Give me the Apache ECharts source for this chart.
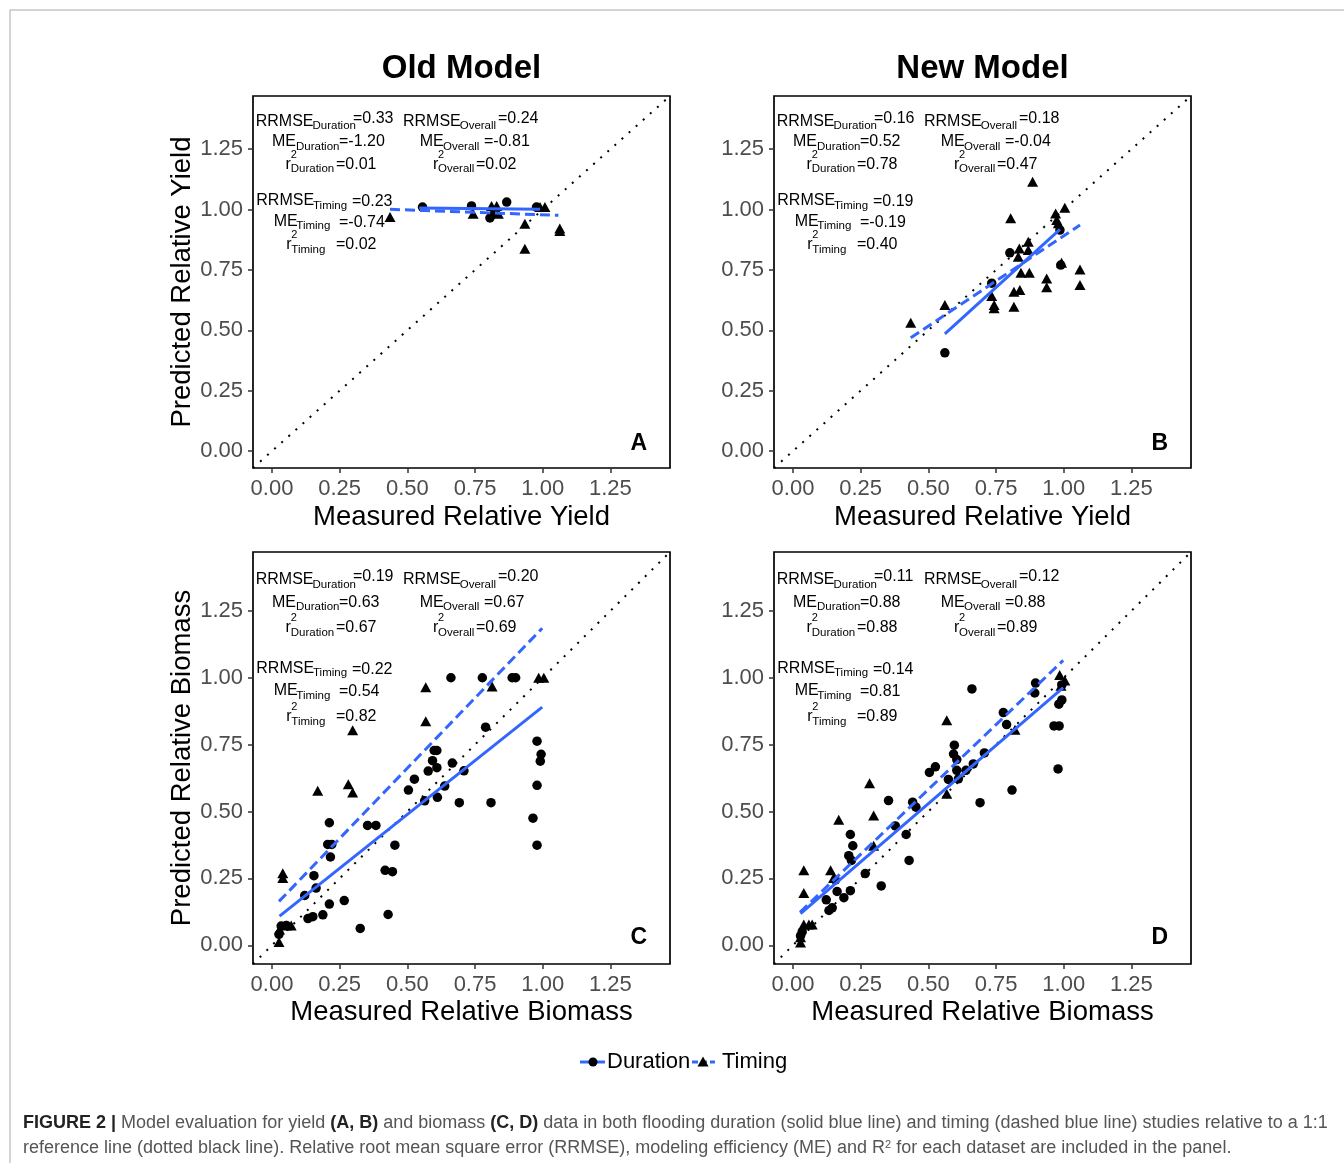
<!DOCTYPE html>
<html>
<head>
<meta charset="utf-8">
<title>Figure 2 - model evaluation</title>
<script src="https://cdn.jsdelivr.net/npm/echarts@6.0.0/dist/echarts.min.js"></script>
<style>
  html, body { margin: 0; padding: 0; background: #fff; }
  #main { width: 1344px; height: 1163px; }
</style>
</head>
<body>
<div id="main"></div>
<script>
// ---- labels ----
const panelLetters = ["A", "B", "C", "D"];
const colTitles = ["Old Model", "New Model"];
const yTitles = ["Predicted Relative Yield", "Predicted Relative Biomass"];
const xTitles = ["Measured Relative Yield", "Measured Relative Biomass"];
const tickValues = [0, 0.25, 0.5, 0.75, 1, 1.25];
const axisMin = -0.07;
const axisMax = 1.47;
const oneToOne = [[-0.07, -0.07], [1.47, 1.47]];

// ---- A: old model, yield ----
const durationA = [[0.556, 1.010], [0.737, 1.015], [0.805, 0.965], [0.823, 0.990], [0.867, 1.031], [0.977, 1.010]];
const timingA = [[0.436, 0.969], [0.743, 0.983], [0.811, 1.015], [0.830, 1.015], [0.836, 0.983], [0.934, 0.941],
  [0.934, 0.838], [0.990, 1.010], [1.008, 1.010], [1.063, 0.921], [1.063, 0.911]];
const durationFitA = [[0.544, 1.006], [0.990, 1.001]];
const timingFitA = [[0.436, 1.001], [1.058, 0.976]];

// ---- B: new model, yield ----
const durationB = [[0.561, 0.407], [0.734, 0.695], [0.801, 0.821], [0.986, 0.915], [0.989, 0.770]];
const timingB = [[0.435, 0.531], [0.561, 0.605], [0.885, 1.115], [0.804, 0.964], [0.836, 0.839], [0.832, 0.805],
  [0.869, 0.867], [0.869, 0.832], [0.734, 0.642], [0.743, 0.605], [0.743, 0.591], [0.816, 0.598],
  [0.816, 0.660], [0.838, 0.667], [0.842, 0.738], [0.873, 0.738], [0.937, 0.715], [0.937, 0.678],
  [0.992, 0.780], [1.060, 0.752], [1.060, 0.688], [0.970, 0.984], [1.004, 1.007], [0.974, 0.957], [0.980, 0.943]];
const durationFitB = [[0.561, 0.485], [0.986, 0.918]];
const timingFitB = [[0.435, 0.469], [1.060, 0.936]];

// ---- C: old model, biomass ----
const durationC = [[0.661, 1.00], [0.777, 1.00], [0.887, 1.00], [0.900, 1.00], [0.789, 0.815], [0.979, 0.763],
  [0.994, 0.714], [0.991, 0.688], [0.979, 0.598], [0.964, 0.475], [0.979, 0.374], [0.599, 0.728],
  [0.609, 0.728], [0.593, 0.690], [0.577, 0.651], [0.609, 0.664], [0.666, 0.681], [0.709, 0.652],
  [0.526, 0.621], [0.504, 0.580], [0.564, 0.540], [0.611, 0.553], [0.638, 0.595], [0.692, 0.533],
  [0.809, 0.533], [0.212, 0.458], [0.353, 0.448], [0.384, 0.448], [0.454, 0.374], [0.206, 0.377],
  [0.221, 0.377], [0.216, 0.330], [0.418, 0.280], [0.445, 0.275], [0.155, 0.260], [0.163, 0.214],
  [0.121, 0.186], [0.212, 0.154], [0.267, 0.167], [0.133, 0.100], [0.151, 0.107], [0.188, 0.114],
  [0.429, 0.115], [0.326, 0.063], [0.026, 0.041], [0.034, 0.072], [0.053, 0.074]];
const timingC = [[0.985, 1.00], [1.004, 1.00], [0.813, 0.967], [0.568, 0.964], [0.568, 0.837], [0.298, 0.804],
  [0.169, 0.578], [0.282, 0.602], [0.298, 0.571], [0.040, 0.269], [0.040, 0.251], [0.053, 0.074],
  [0.071, 0.074], [0.028, 0.059], [0.026, 0.012]];
const durationFitC = [[0.028, 0.109], [0.998, 0.890]];
const timingFitC = [[0.026, 0.164], [0.998, 1.185]];

// ---- D: new model, biomass ----
const durationD = [[0.661, 0.958], [0.896, 0.980], [0.893, 0.943], [0.777, 0.870], [0.789, 0.825], [0.993, 0.973],
  [0.993, 0.917], [0.982, 0.901], [0.964, 0.820], [0.983, 0.820], [0.979, 0.659], [0.596, 0.748],
  [0.593, 0.715], [0.605, 0.694], [0.666, 0.678], [0.707, 0.719], [0.605, 0.654], [0.574, 0.620],
  [0.611, 0.622], [0.639, 0.654], [0.504, 0.646], [0.526, 0.667], [0.691, 0.533], [0.809, 0.580],
  [0.353, 0.541], [0.442, 0.535], [0.454, 0.516], [0.378, 0.446], [0.418, 0.414], [0.429, 0.317],
  [0.212, 0.414], [0.221, 0.372], [0.206, 0.335], [0.216, 0.317], [0.267, 0.268], [0.326, 0.222],
  [0.157, 0.244], [0.163, 0.201], [0.212, 0.204], [0.188, 0.178], [0.123, 0.170], [0.133, 0.130],
  [0.145, 0.140], [0.028, 0.035], [0.034, 0.050]];
const timingD = [[0.985, 1.010], [1.004, 0.990], [0.990, 0.970], [0.820, 0.806], [0.568, 0.841], [0.568, 0.566],
  [0.283, 0.606], [0.298, 0.485], [0.169, 0.469], [0.298, 0.372], [0.139, 0.280], [0.150, 0.251],
  [0.040, 0.280], [0.040, 0.195], [0.040, 0.078], [0.059, 0.078], [0.071, 0.078], [0.028, 0.010], [0.028, 0.030]];
const durationFitD = [[0.028, 0.118], [0.998, 0.963]];
const timingFitD = [[0.026, 0.123], [0.998, 1.065]];

// ---- statistics printed in each panel (A, B, C, D) ----
const rrmseDuration = [0.33, 0.16, 0.19, 0.11];
const meDuration = [-1.20, 0.52, 0.63, 0.88];
const r2Duration = [0.01, 0.78, 0.67, 0.88];
const rrmseTiming = [0.23, 0.19, 0.22, 0.14];
const meTiming = [-0.74, -0.19, 0.54, 0.81];
const r2Timing = [0.02, 0.40, 0.82, 0.89];
const rrmseOverall = [0.24, 0.18, 0.20, 0.12];
const meOverall = [-0.81, -0.04, 0.67, 0.88];
const r2Overall = [0.02, 0.47, 0.69, 0.89];

const durationPts = [durationA, durationB, durationC, durationD];
const timingPts = [timingA, timingB, timingC, timingD];
const durationFits = [durationFitA, durationFitB, durationFitC, durationFitD];
const timingFits = [timingFitA, timingFitB, timingFitC, timingFitD];

const FONT = '"Liberation Sans", Arial, Helvetica, sans-serif';
const BLUE = "#3366FF";

const grids = [
  { left: 253, top: 96, width: 417, height: 372 },
  { left: 774, top: 96, width: 417, height: 372 },
  { left: 253, top: 552, width: 417, height: 412 },
  { left: 774, top: 552, width: 417, height: 412 }
];

const axisCommon = (i, margin) => ({
  gridIndex: i,
  type: "value",
  min: axisMin,
  max: axisMax,
  axisLine: { show: false, onZero: false },
  splitLine: { show: false },
  axisTick: { show: true, length: 5, customValues: tickValues, lineStyle: { color: "#333", width: 1.5 } },
  axisLabel: {
    customValues: tickValues,
    formatter: (v) => v.toFixed(2),
    color: "#4d4d4d",
    fontSize: 22,
    fontFamily: FONT,
    margin: margin
  }
});

const series = [];
grids.forEach((g, i) => {
  series.push({
    type: "line", xAxisIndex: i, yAxisIndex: i, data: oneToOne, symbol: "none", silent: true, z: 1,
    lineStyle: { color: "#000", width: 2, type: [2, 7.5] }
  });
  series.push({
    name: "Duration", type: "scatter", xAxisIndex: i, yAxisIndex: i, data: durationPts[i],
    symbol: "circle", symbolSize: 9.5, itemStyle: { color: "#000", opacity: 1 }, z: 2
  });
  series.push({
    name: "Timing", type: "scatter", xAxisIndex: i, yAxisIndex: i, data: timingPts[i],
    symbol: "triangle", symbolSize: [11, 10], itemStyle: { color: "#000", opacity: 1 }, z: 2
  });
  series.push({
    type: "line", xAxisIndex: i, yAxisIndex: i, data: durationFits[i], symbol: "none", silent: true, z: 3,
    lineStyle: { color: BLUE, width: 3 }
  });
  series.push({
    type: "line", xAxisIndex: i, yAxisIndex: i, data: timingFits[i], symbol: "none", silent: true, z: 3,
    lineStyle: { color: BLUE, width: 3, type: [10, 5] }
  });
});

const option = {
  animation: false,
  backgroundColor: "#fff",
  grid: grids.map((g) => Object.assign({ show: true, borderColor: "#000", borderWidth: 1.7, backgroundColor: "transparent" }, g)),
  xAxis: grids.map((g, i) => axisCommon(i, 10)),
  yAxis: grids.map((g, i) => axisCommon(i, 10)),
  series: series
};

const chart = echarts.init(document.getElementById("main"), null, { renderer: "canvas" });
chart.setOption(option);

// ---- text layer ----
function txt(x, y, text, size, o) {
  o = o || {};
  return {
    type: "text", x: x, y: y, rotation: o.rot || 0, silent: true, z: 10,
    style: {
      text: text, fontSize: size, fontFamily: FONT, fontWeight: o.bold ? "bold" : "normal",
      fill: o.color || "#000", textAlign: o.align || "left", textVerticalAlign: o.valign || "middle",
      rich: o.rich
    }
  };
}

const fmt = (v) => "=" + v.toFixed(2);
// rows of the statistics block: x offsets from panel left, y in data units
const statRows = [
  { main: "RRMSE", sub: "Duration", vals: rrmseDuration, mx: 2.7, sx: 59.5, vx: 100, yv: 1.366, vdy: -3 },
  { main: "ME", sub: "Duration", vals: meDuration, mx: 19, sx: 43, vx: 86, yv: 1.282, vdy: 0 },
  { main: "r", sup: "2", sub: "Duration", vals: r2Duration, mx: 32.5, sx: 37.7, vx: 83, yv: 1.188, vdy: 0 },
  { main: "RRMSE", sub: "Timing", vals: rrmseTiming, mx: 3.3, sx: 60, vx: 99, yv: 1.036, vdy: 1 },
  { main: "ME", sub: "Timing", vals: meTiming, mx: 20.7, sx: 43.3, vx: 86, yv: 0.952, vdy: 1 },
  { main: "r", sup: "2", sub: "Timing", vals: r2Timing, mx: 33.3, sx: 38.3, vx: 83, yv: 0.855, vdy: 0 },
  { main: "RRMSE", sub: "Overall", vals: rrmseOverall, mx: 150, sx: 206.7, vx: 245, yv: 1.366, vdy: -3 },
  { main: "ME", sub: "Overall", vals: meOverall, mx: 166.7, sx: 190, vx: 231, yv: 1.282, vdy: 0 },
  { main: "r", sup: "2", sub: "Overall", vals: r2Overall, mx: 180, sx: 185, vx: 223, yv: 1.188, vdy: 0 }
];

const g = [];
grids.forEach((gr, i) => {
  statRows.forEach((r) => {
    const y = chart.convertToPixel({ gridIndex: i }, [0, r.yv])[1];
    const x0 = gr.left;
    g.push(txt(x0 + r.mx, y, r.main, 16));
    if (r.sup) g.push(txt(x0 + r.sx, y - 9.5, r.sup, 11));
    g.push(txt(x0 + r.sx, y + 5, r.sub, 11.5));
    g.push(txt(x0 + r.vx, y + r.vdy, fmt(r.vals[i]), 16));
  });
  const lp = chart.convertToPixel({ gridIndex: i }, [1.355, 0.03]);
  g.push(txt(lp[0], lp[1], panelLetters[i], 23, { bold: true, align: "center" }));
});

// column titles and axis titles
[0, 1].forEach((c) => {
  const cx = grids[c].left + grids[c].width / 2;
  g.push(txt(cx, 69, colTitles[c], 33, { bold: true, align: "center" }));
  g.push(txt(cx, 517, xTitles[0], 27.5, { align: "center" }));
  g.push(txt(cx, 1012, xTitles[1], 27.5, { align: "center" }));
});
g.push(txt(182, grids[0].top + grids[0].height / 2, yTitles[0], 27.5, { align: "center", rot: Math.PI / 2 }));
g.push(txt(182, grids[2].top + grids[2].height / 2, yTitles[1], 27.5, { align: "center", rot: Math.PI / 2 }));

// legend
g.push({ type: "line", silent: true, shape: { x1: 580, y1: 1062, x2: 605, y2: 1062 }, style: { stroke: BLUE, lineWidth: 3 } });
g.push({ type: "circle", silent: true, shape: { cx: 593, cy: 1062, r: 4.5 }, style: { fill: "#000" } });
g.push(txt(607, 1062, "Duration", 22));
g.push({ type: "line", silent: true, shape: { x1: 692, y1: 1062, x2: 715, y2: 1062 }, style: { stroke: BLUE, lineWidth: 3, lineDash: [6, 3] } });
g.push({ type: "polygon", silent: true, shape: { points: [[697.5, 1066.5], [708.5, 1066.5], [703, 1056.5]] }, style: { fill: "#000" } });
g.push(txt(722, 1062, "Timing", 22));

// caption
const capRich = {
  b: { fontWeight: "bold", fill: "#222", color: "#222", fontSize: 18, fontFamily: FONT },
  sup: { fontSize: 11, fill: "#555", color: "#555", verticalAlign: "top", fontFamily: FONT }
};
g.push(txt(23, 1123, "{b|FIGURE 2 |} Model evaluation for yield {b|(A, B)} and biomass {b|(C, D)} data in both flooding duration (solid blue line) and timing (dashed blue line) studies relative to a 1:1",
  18, { color: "#555", rich: capRich }));
g.push(txt(23, 1148, "reference line (dotted black line). Relative root mean square error (RRMSE), modeling efficiency (ME) and R{sup|2} for each dataset are included in the panel.",
  18, { color: "#555", rich: capRich }));

// outer frame
g.push({ type: "line", silent: true, shape: { x1: 10, y1: 10, x2: 1344, y2: 10 }, style: { stroke: "#aaa", lineWidth: 1 } });
g.push({ type: "line", silent: true, shape: { x1: 10, y1: 10, x2: 10, y2: 1163 }, style: { stroke: "#aaa", lineWidth: 1 } });

chart.setOption({ graphic: { elements: g } });
</script>
</body>
</html>
